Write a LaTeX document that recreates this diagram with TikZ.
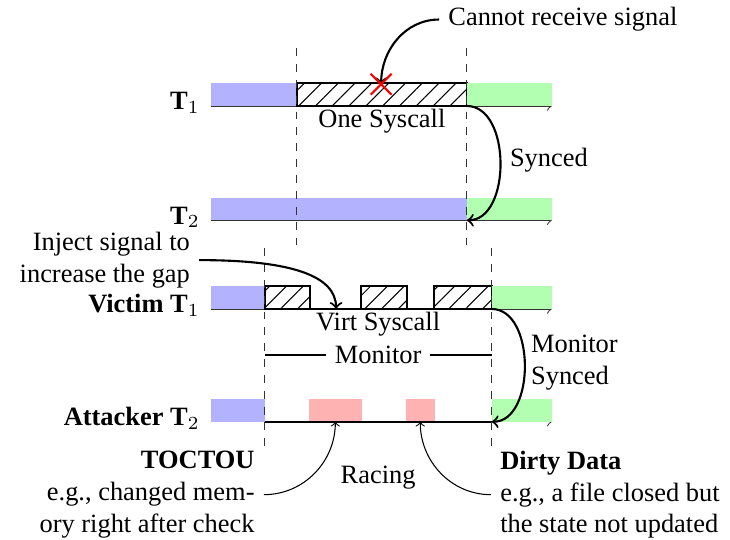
\documentclass[tikz,border=0pt]{standalone}
\usepackage{fontspec}
\setmainfont{Liberation Serif}
\usetikzlibrary{patterns.meta,shapes.misc}

\begin{document}
\begin{tikzpicture}[
lanebar/.style={inner sep=0pt, outer sep=0pt, minimum height=3mm, anchor=south west},
userbar/.style={lanebar, fill=blue!30},
donebar/.style={lanebar, fill=green!30},
racebar/.style={lanebar, fill=red!30},
callbar/.style={lanebar, draw=black, thick, pattern={Lines[angle=45, distance=4.5pt, line width=0.4pt]}},
timeline/.style={thin, black!80, ->},
bound/.style={thin, dashed, black!80},
syncarrow/.style={thick, ->, out=0, in=0},
thname/.style={anchor=base east, font=\bfseries}
]
\useasboundingbox (0,0) rectangle (9.71,7.17);
%Time lines
\draw[timeline] (2.81,5.76) -- (7.34,5.76);
\draw[timeline] (2.81,4.24) -- (7.34,4.24);
\draw[timeline] (2.81,3.06) -- (7.34,3.06);
\draw[timeline] (2.81,1.56) -- (7.34,1.56);
%Upper pair
\node[userbar, minimum width=1.14cm] (t1user) at (2.81,5.76) {};
\node[callbar, minimum width=2.26cm] (t1call) at (t1user.south east) {};
\node[donebar, minimum width=1.13cm] (t1done) at (t1call.south east) {};
\node[userbar, minimum width=3.40cm] (t2user) at (2.81,4.24) {};
\node[donebar, minimum width=1.13cm] (t2done) at (t2user.south east) {};
%Lower pair
\node[userbar, minimum width=0.71cm] (v1user) at (2.81,3.06) {};
\node[callbar, minimum width=0.60cm] (vcall1) at (v1user.south east) {};
\node[callbar, minimum width=0.61cm] (vcall2) at (4.80,3.06) {};
\node[callbar, minimum width=0.77cm] (vcall3) at (5.77,3.06) {};
\node[donebar, minimum width=0.80cm] (v1done) at (vcall3.south east) {};
\draw[thick] (vcall1.south west) -- (vcall3.south east);
\node[userbar, minimum width=0.71cm] (a2user) at (2.81,1.56) {};
\node[racebar, minimum width=0.70cm] (race1) at (4.11,1.56) {};
\node[racebar, minimum width=0.38cm] (race2) at (5.40,1.56) {};
\node[donebar, minimum width=0.80cm] (a2done) at (6.54,1.56) {};
\draw[thick] (a2user.south east) -- (a2done.south west);
%Syscall bounds
\draw[bound] (3.95,6.53) -- (3.95,3.91);
\draw[bound] (6.21,6.53) -- (6.21,3.91);
\draw[bound] (3.52,3.87) -- (3.52,1.18);
\draw[bound] (6.54,3.87) -- (6.54,1.18);
%Thread names
\node[thname] (t1name) at (2.78,5.71) {T$_1$};
\node[thname] (t2name) at (2.78,4.19) {T$_2$};
\node[thname] (v1name) at (2.78,3.01) {Victim T$_1$};
\node[thname] (a2name) at (2.78,1.51) {Attacker T$_2$};
%Labels
\node[below, inner sep=1pt] (onecall) at (t1call.south) {One Syscall};
\node[below, inner sep=1pt] (virtcall) at (5.03,3.06) {Virt Syscall};
\draw[thick] (3.52,2.45) -- (6.54,2.45) node[midway, fill=white] (monitor) {Monitor};
\node[anchor=west] (synced) at (6.66,5.04) {Synced};
\node[anchor=west, align=left] (monsynced) at (6.94,2.35) {Monitor\\Synced};
\draw[syncarrow] (t1call.south east) to (t2done.south west);
\draw[syncarrow] (vcall3.south east) to (a2done.south west);
%Signal notes
\coordinate (hit) at (5.07,6.05);
\node[anchor=west] (nosigtxt) at (5.84,6.91) {Cannot receive signal};
\draw[thick, ->] (nosigtxt.west) to[out=180, in=90] (hit);
\node[cross out, draw=red, thick, minimum size=2.5mm, inner sep=0pt] (nosig) at (hit) {};
\coordinate (gap) at (4.47,3.06);
\node[anchor=east, align=right] (inject) at (2.65,3.71) {Inject signal to\\increase the gap};
\draw[thick, ->] (inject.east) .. controls +(1.2,0) and +(0,0.45) .. (gap);
%Races
\node (racing) at (5.03,0.82) {Racing};
\node[anchor=east, align=right] (toctou) at (3.51,0.59) {\textbf{TOCTOU}\\e.g., changed mem-\\ory right after check};
\node[anchor=west, align=left] (dirty) at (6.53,0.59) {\textbf{Dirty Data}\\e.g., a file closed but\\the state not updated};
\draw[thin, ->] (toctou.east) to[out=0, in=-90] (race1.south);
\draw[thin, ->] (dirty.west) to[out=180, in=-90] (race2.south);
\end{tikzpicture}
\end{document}
